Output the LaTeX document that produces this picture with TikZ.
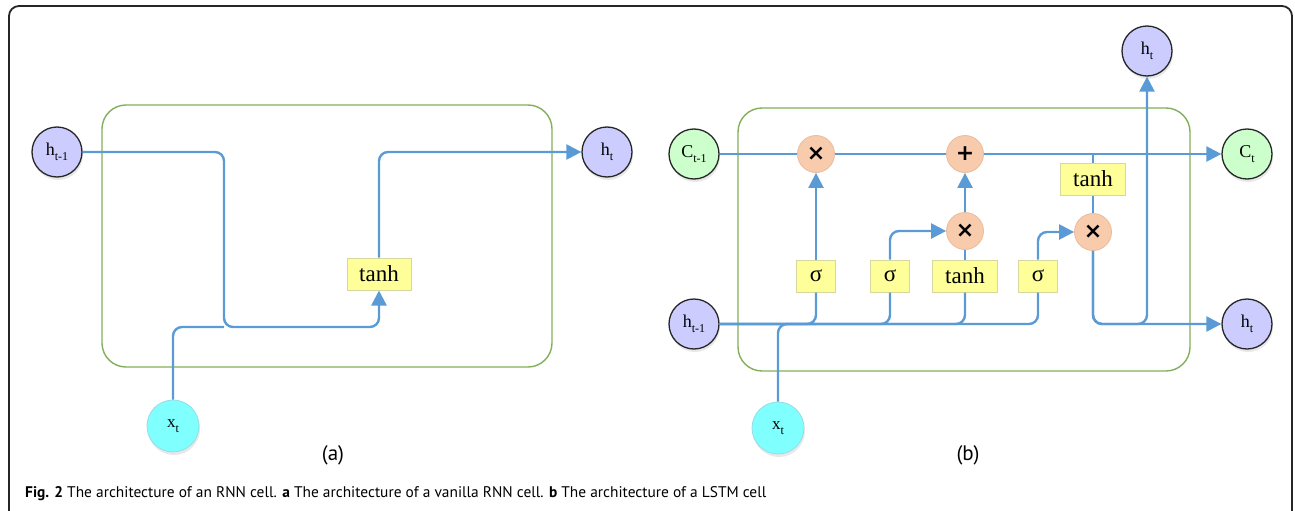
\documentclass[tikz,border=0pt]{standalone}
\usepackage{fontspec}
\setmainfont{Liberation Serif}
\newfontfamily\capfont{PT Sans}
\newfontfamily\symfont{DejaVu Sans}
\usetikzlibrary{arrows.meta,shadows}

\definecolor{flowblue}{RGB}{91,155,213}
\definecolor{cellgreen}{RGB}{130,175,90}
\definecolor{hfill}{RGB}{204,204,255}
\definecolor{cfill}{RGB}{204,255,204}
\definecolor{xfill}{RGB}{128,255,255}
\definecolor{xedge}{RGB}{150,220,230}
\definecolor{opfill}{RGB}{248,203,173}
\definecolor{opedge}{RGB}{232,188,160}
\definecolor{gatefill}{RGB}{255,255,153}
\definecolor{gateedge}{RGB}{215,215,160}

% lowered index in text mode
\newcommand{\lidx}[1]{\raisebox{-0.3em}{\fontsize{12}{12}\selectfont #1}}

\begin{document}
\begin{tikzpicture}[x=1pt,y=-1pt,
  frame/.style={draw=black!85, line width=1.8pt, rounded corners=10pt},
  cell/.style={draw=cellgreen, line width=1.4pt, rounded corners=24pt},
  flow/.style={draw=flowblue, line width=2.4pt, rounded corners=9pt},
  arr/.style={flow, -{Triangle[length=15pt,width=15pt]}},
  softshadow/.style={drop shadow={opacity=0.18, shadow xshift=1pt, shadow yshift=-3pt}},
  state/.style={circle, draw=black!85, line width=1.3pt, minimum size=50pt, inner sep=0pt,
    softshadow, font=\fontsize{18}{18}\selectfont},
  input/.style={circle, draw=xedge, fill=xfill, line width=0.8pt, minimum size=52pt, inner sep=0pt,
    softshadow, font=\fontsize{17}{17}\selectfont},
  op/.style={circle, draw=opedge, fill=opfill, line width=0.8pt, minimum size=37pt, inner sep=0pt,
    font=\symfont\bfseries\fontsize{22}{22}\selectfont},
  gate/.style={draw=gateedge, fill=gatefill, line width=1pt, minimum height=32pt, inner sep=0pt,
    font=\fontsize{23}{23}\selectfont},
  sublabel/.style={font=\capfont\fontsize{21}{21}\selectfont},
]
\useasboundingbox (0,0) rectangle (1295,511);
\begin{scope}
  \clip (0,0) rectangle (1295,511);
  \draw[frame] (9,6) rectangle (1292,522);
\end{scope}

% ---------- (a) vanilla RNN cell ----------
\draw[cell] (102,105) rectangle (552,367);
\node[state, fill=hfill] (ha) at (57,152) {h\lidx{t-1}};
\node[state, fill=hfill] (hta) at (607,152) {h\lidx{t}};
\node[input] (xa) at (173,426) {x\lidx{t}};
\node[gate, minimum width=64pt] (tanha) at (379,274) {tanh};
\coordinate (ja) at (224,327);
\draw[arr] (ha.east) -| (ja) -| (tanha.south);
\draw[flow] (xa.north) |- (ja);
\draw[arr] (tanha.north) |- (hta.west);
\node[sublabel] (la) at (333,455) {(a)};

% ---------- (b) LSTM cell ----------
\draw[cell] (738,108) rectangle (1190,371);
\node[state, fill=cfill] (cp) at (694,154) {C\lidx{t-1}};
\node[state, fill=cfill] (ct) at (1247,154) {C\lidx{t}};
\node[state, fill=hfill] (hp) at (694,324) {h\lidx{t-1}};
\node[state, fill=hfill] (hn) at (1247,324) {h\lidx{t}};
\node[state, fill=hfill] (hu) at (1147,51) {h\lidx{t}};
\node[input] (xb) at (778,428) {x\lidx{t}};

\node[op] (m1) at (816,154) {×};
\node[op] (ad) at (965,154) {+};
\node[op] (m2) at (965,231) {×};
\node[op] (m3) at (1093,232) {×};

\node[gate, minimum width=39pt] (s1) at (816,276) {σ};
\node[gate, minimum width=39pt] (s2) at (890,276) {σ};
\node[gate, minimum width=65pt] (tb) at (965,276) {tanh};
\node[gate, minimum width=39pt] (s3) at (1038,276) {σ};
\node[gate, minimum width=65pt] (tc) at (1093,179) {tanh};

% cell state
\draw[flow] (cp.east) -- (m1.west);
\draw[flow] (m1.east) -- (ad.west);
\draw[arr] (ad.east) -- (ct.west);
\coordinate (tap) at (tc.north |- ct.west);
\draw[flow] (tap) -- (tc.north);
\draw[flow] (tc.south) -- (m3.north);

% gates
\draw[arr] (s1.north) -- (m1.south);
\draw[arr] (s2.north) |- (m2.west);
\draw[flow] (tb.north) -- (m2.south);
\draw[arr] (m2.north) -- (ad.south);
\draw[arr] (s3.north) |- (m3.west);

% inputs to the gates
\draw[flow] (hp.east) -| (s1.south);
\draw[flow] (hp.east) -| (s2.south);
\draw[flow] (hp.east) -| (tb.south);
\draw[flow] (hp.east) -| (s3.south);
\draw[flow] (xb.north) |- (s1.south |- hp.east);

% hidden state outputs
\coordinate (up) at (hu.south |- hn.west);
\draw[arr] (m3.south) |- (hn.west);
\draw[arr] (m3.south) |- (up) -- (hu.south);
\node[sublabel] (lb) at (968,455) {(b)};

% caption
\node[anchor=base west, inner sep=0pt, font=\capfont\fontsize{15.4}{15.4}\selectfont] (cap) at (25,497)
  {\textbf{Fig. 2} The architecture of an RNN cell. \textbf{a} The architecture of a vanilla RNN cell. \textbf{b} The architecture of a LSTM cell};
\end{tikzpicture}
\end{document}
